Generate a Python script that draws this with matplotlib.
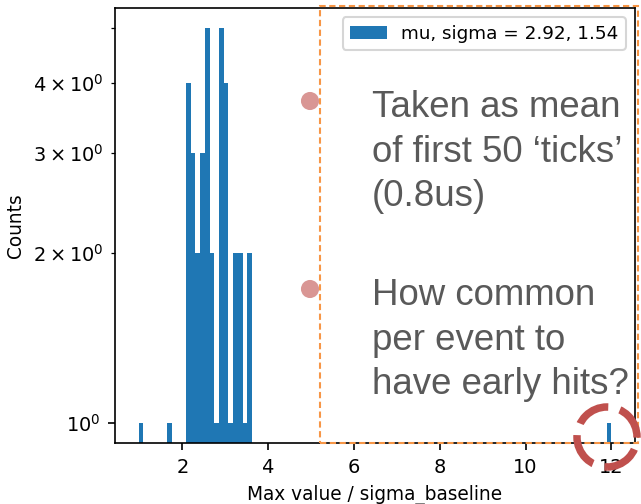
import numpy as np
import matplotlib
matplotlib.use("Agg")
import matplotlib.pyplot as plt
from matplotlib.patches import Rectangle, Circle

# --- histogram (100 bins between lo and hi) ---
hist_lo, hist_hi, n_bins = 0.98, 12.0, 100
bin_index = [0, 6, 10, 11, 12, 13, 14, 15, 16, 17, 18, 19, 20, 21, 22, 23, 99]
counts = [1, 1, 4, 3, 2, 3, 5, 2, 1, 5, 4, 1, 2, 2, 1, 2, 1]
mu, sigma = 2.92, 1.54

note_top = ["Taken as mean", "of first 50 \u2018ticks\u2019", "(0.8us)"]
note_bottom = ["How common", "per event to", "have early hits?"]

W, H, DPI = 641, 504, 150
fig = plt.figure(figsize=(W / DPI, H / DPI), dpi=DPI)
ax = fig.add_axes([115 / W, 1 - 443 / H, (635 - 115) / W, (443 - 8) / H])

width = (hist_hi - hist_lo) / n_bins
centers = [hist_lo + (i + 0.5) * width for i in bin_index]
ax.hist(centers, bins=n_bins, range=(hist_lo, hist_hi), weights=counts,
        log=True, color="#1f77b4", label=f"mu, sigma = {mu}, {sigma}")

ax.set_xlabel("Max value / sigma_baseline", fontsize=8.9)
ax.set_ylabel("Counts", fontsize=8.9)
ax.tick_params(which="both", labelsize=9.3)
ax.legend(loc="upper right", fontsize=8.8)


# --- slide overlays, placed in figure pixels (origin top-left) ---
def px(x, y):
    return (x, H - y)


fig.add_artist(Rectangle(px(320, 443), 638 - 320, 443 - 6, transform=None,
                         fill=False, edgecolor="#f79646", lw=1.0,
                         ls=(0, (3, 1.7)), zorder=4))

for yy in (101, 289):
    fig.add_artist(Circle(px(310, yy), 8, transform=None, color="#d99694",
                          zorder=5))

fig.add_artist(Circle(px(607, 437), 30, transform=None, fill=False,
                      edgecolor="#c0504d", lw=3.6, ls=(0, (4.6, 1.6)),
                      zorder=6))

for lines, base in ((note_top, 117), (note_bottom, 305)):
    for k, line in enumerate(lines):
        fig.text(*[v / s for v, s in zip(px(372, base + k * 44.5), (W, H))],
                 line, family="Liberation Sans", fontsize=17.6,
                 color="#595959", va="baseline", ha="left")

fig.savefig("out.png", dpi=DPI)
